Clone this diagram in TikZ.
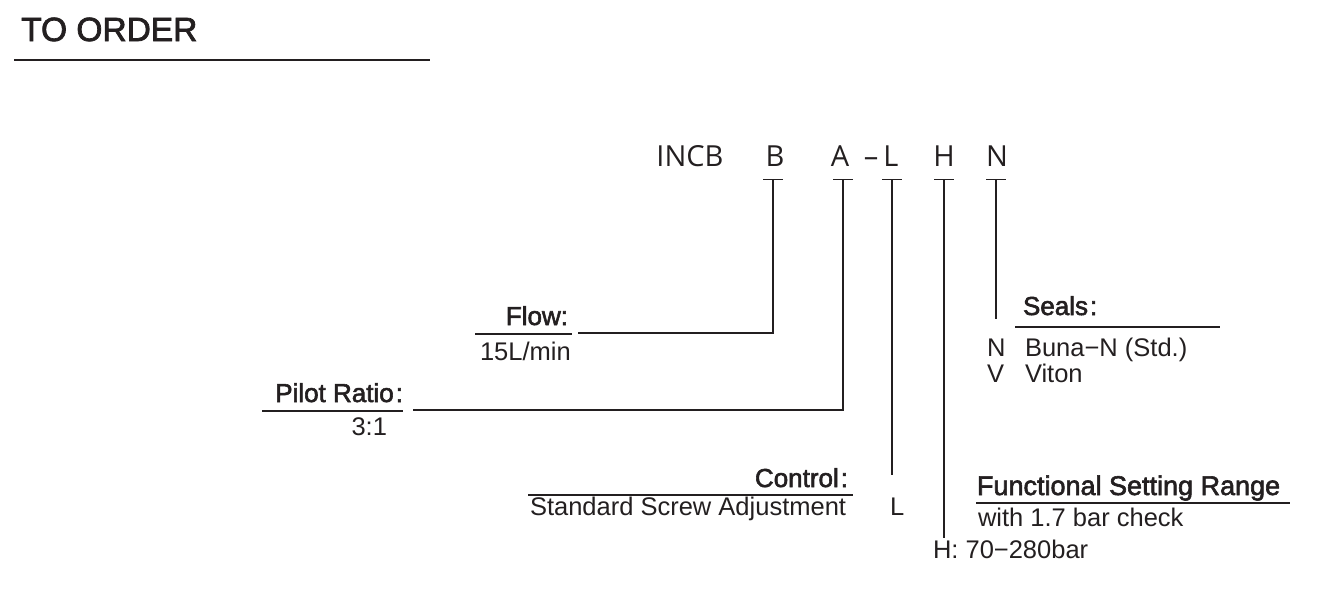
\documentclass[tikz,border=0pt]{standalone}
\usepackage{fontspec}
\setmainfont{Liberation Sans}
\newfontfamily\headfont[FakeBold=2.2]{Liberation Sans}
\newfontfamily\codefont{Open Sans}
\definecolor{ink}{HTML}{231F20}
\begin{document}
\begin{tikzpicture}[x=1pt,y=-1pt,
  txt/.style={inner sep=0pt,outer sep=0pt,text=ink,font=\fontsize{25.5}{28}\selectfont},
  head/.style={inner sep=0pt,outer sep=0pt,text=ink,font=\headfont\fontsize{26}{30}\selectfont},
  code/.style={inner sep=0pt,outer sep=0pt,text=ink,anchor=base,font=\codefont\fontsize{29}{32}\selectfont},
  rule/.style={draw=ink,line width=1.3pt},
  conn/.style={draw=ink,line width=1.3pt}]
\useasboundingbox (0,0) rectangle (1318,592);
% title
\node[inner sep=0pt,text=ink,anchor=base west,font=\headfont\fontsize{33.5}{36}\selectfont] (title) at (21,41) {TO ORDER};
\draw[rule] (14,60) coordinate (tl1) -- (430,60) coordinate (tl2);
% code
\node[code] (incb) at (690,166) {INCB};
\node[code] (cB) at (775,166) {B};
\node[code] (cA) at (840,166) {A};
\node[code] (cdash) at (871,166) {–};
\node[code] (cL) at (891,166) {L};
\node[code] (cH) at (944,166) {H};
\node[code] (cN) at (997,166) {N};
% tick tops
\coordinate (tB) at (773,179.5);
\coordinate (tA) at (843,179.5);
\coordinate (tL) at (892,179.5);
\coordinate (tH) at (944,179.5);
\coordinate (tN) at (996,179.5);
\foreach \t in {tB,tA,tL,tH,tN}{\draw[conn] ([xshift=-10pt]\t) -- ([xshift=10pt]\t);}
% Flow
\node[head,anchor=base east] (flow) at (568,325) {Flow:};
\draw[rule] (475,334) -- (572,334);
\node[txt,anchor=base west] (flowv) at (480,360) {15L/min};
\coordinate (fB) at (578,333);
\draw[conn] (tB) |- (fB);
% Pilot ratio
\node[head,anchor=base east] (pilot) at (403,402) {Pilot Ratio\kern2pt:};
\draw[rule] (262,411) -- (403,411);
\node[txt,anchor=base east] (pilotv) at (387,435) {3:1};
\coordinate (fA) at (413,410);
\draw[conn] (tA) |- (fA);
% Control
\node[head,anchor=base east] (control) at (848,487) {Control\kern2pt:};
\draw[rule] (528,495) -- (853,495);
\node[txt,anchor=base west] (controlv) at (530,515) {Standard Screw Adjustment};
\node[txt,anchor=base west] (controlL) at (890,515) {L};
\coordinate (fL) at (892,475);
\draw[conn] (tL) -- (fL);
% Functional setting range
\node[head,anchor=base west,font=\headfont\fontsize{27}{30}\selectfont] (fsr) at (977,495) {Functional Setting Range};
\draw[rule] (976,503) -- (1290,503);
\node[txt,anchor=base west] (fsrv) at (978,526) {with 1.7 bar check};
\node[txt,anchor=base west] (fsrH) at (933,558) {H: 70−280bar};
\coordinate (fH) at (944,538);
\draw[conn] (tH) -- (fH);
% Seals
\node[head,anchor=base west] (seals) at (1023,315) {Seals\kern2pt:};
\draw[rule] (1015,327) -- (1220,327);
\node[txt,anchor=base west] (sN) at (987,356) {N};
\node[txt,anchor=base west] (sNv) at (1025,356) {Buna−N (Std.)};
\node[txt,anchor=base west] (sV) at (987,382) {V};
\node[txt,anchor=base west] (sVv) at (1025,382) {Viton};
\coordinate (fN) at (996,319);
\draw[conn] (tN) -- (fN);
\end{tikzpicture}
\end{document}
